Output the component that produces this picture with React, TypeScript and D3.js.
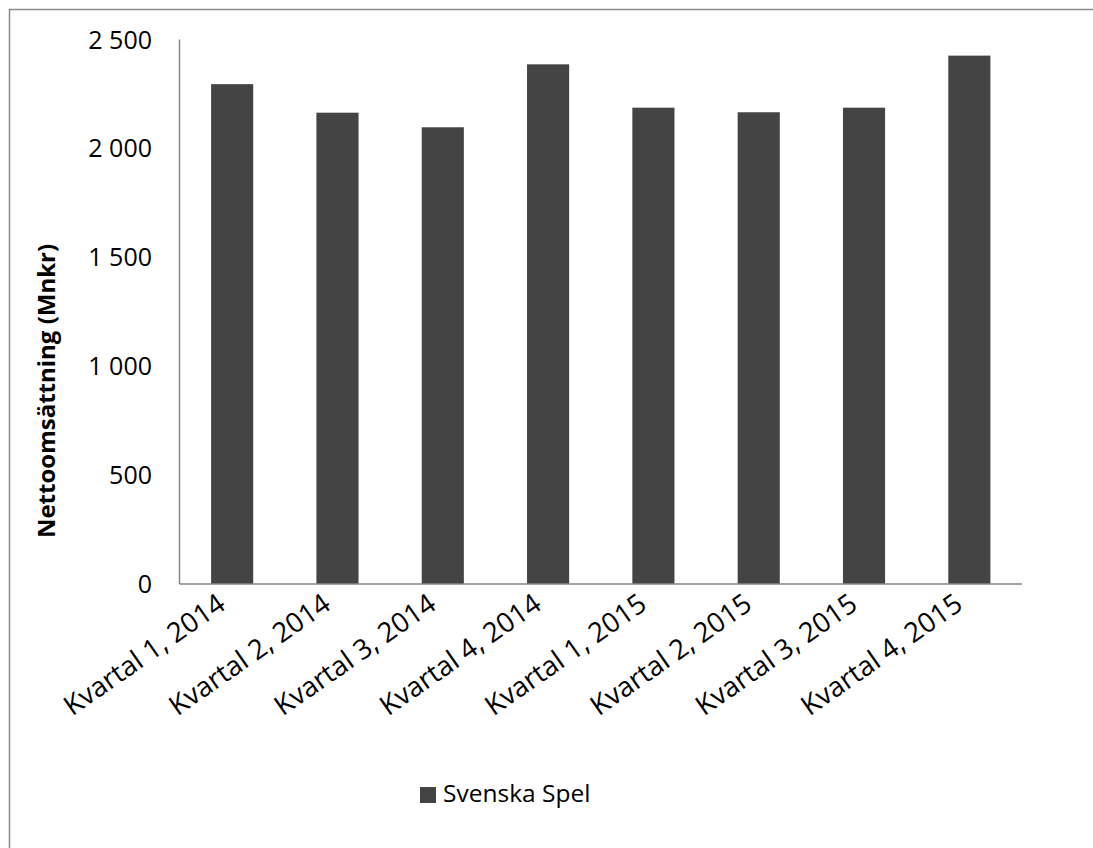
import React from "react";
import * as d3 from "d3";

const categories = [
  "Kvartal 1, 2014",
  "Kvartal 2, 2014",
  "Kvartal 3, 2014",
  "Kvartal 4, 2014",
  "Kvartal 1, 2015",
  "Kvartal 2, 2015",
  "Kvartal 3, 2015",
  "Kvartal 4, 2015",
];
const values = [2295, 2164, 2097, 2386, 2187, 2166, 2187, 2426];
const yTicks = [0, 500, 1000, 1500, 2000, 2500];
const seriesName = "Svenska Spel";
const yTitle = "Nettoomsättning (Mnkr)";

const W = 1093;
const H = 848;
const left = 179.5;
const right = 1022;
const top = 39.5;
const bottom = 584;
const barColor = "#444444";
const axisColor = "#868686";
const font = "'Open Sans', sans-serif";

const fmt = (v: number) => d3.format(",")(v).replace(/,/g, " ");

export default function App() {
  const x = d3.scaleBand<string>().domain(categories).range([left, right]).paddingInner(0.6).paddingOuter(0.3);
  const y = d3.scaleLinear().domain([0, 2500]).range([bottom, top]);

  return (
    <svg width={W} height={H} style={{ position: "absolute", left: 0, top: 0 }}>
      <rect x={0} y={0} width={W} height={H} fill="#fff" />
      <rect x={9.5} y={9.5} width={W + 20} height={H + 20} fill="none" stroke="#8c8c8c" strokeWidth={1.5} />
      {categories.map((c, i) => (
        <rect key={c} x={x(c)} y={y(values[i])} width={x.bandwidth()} height={bottom - y(values[i])} fill={barColor} />
      ))}
      <line x1={left} x2={left} y1={top} y2={bottom} stroke={axisColor} strokeWidth={1.5} />
      <line x1={left} x2={right} y1={bottom} y2={bottom} stroke={axisColor} strokeWidth={1.5} />
      {yTicks.map((t) => (
        <text key={t} x={152} y={y(t) + 9} textAnchor="end" fontFamily={font} fontSize={25} fill="#000">
          {fmt(t)}
        </text>
      ))}
      {categories.map((c) => {
        const cx = (x(c) as number) + x.bandwidth() / 2;
        return (
          <text
            key={c}
            transform={`translate(${cx - 5},${608}) rotate(-35)`}
            textAnchor="end"
            fontFamily={font}
            fontSize={27.5}
            fill="#000"
          >
            {c}
          </text>
        );
      })}
      <text
        transform={`translate(55,391) rotate(-90)`}
        textAnchor="middle"
        fontFamily={font}
        fontWeight="bold"
        fontSize={24}
        fill="#000"
      >
        {yTitle}
      </text>
      <rect x={420} y={787} width={16} height={16} fill={barColor} />
      <text x={443} y={802} fontFamily={font} fontSize={24.5} fill="#000">
        {seriesName}
      </text>
    </svg>
  );
}
